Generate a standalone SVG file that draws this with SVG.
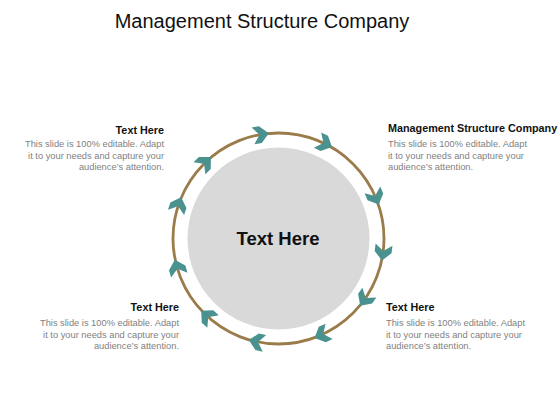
<svg xmlns="http://www.w3.org/2000/svg" width="560" height="420" viewBox="0 0 560 420">
<style>
.title{font-family:"Liberation Sans",Arial,sans-serif;font-size:20px;fill:#111}
.center{font-family:"Liberation Sans",Arial,sans-serif;font-size:18.5px;font-weight:bold;fill:#111}
.head{font-family:"Liberation Sans",Arial,sans-serif;font-size:10.8px;font-weight:bold;fill:#111}
.desc{font-family:"Liberation Sans",Arial,sans-serif;font-size:9.3px;fill:#7f7f7f}
.ring{fill:none;stroke:#9a7b4a;stroke-width:2.8}
.chev{fill:#4a928f}
</style>
<defs>
<polygon id="chev" class="chev" points="-7.5,-8.5 0,-8.5 8.5,0 0,8.5 -7.5,8.5 -1,0"/>
</defs>
<rect width="560" height="420" fill="#ffffff"/>
<text class="title" x="262" y="28" text-anchor="middle">Management Structure Company</text>
<g id="center-node">
<circle cx="278.5" cy="238.5" r="91" fill="#d9d9d9"/>
<text class="center" x="278" y="245" text-anchor="middle">Text Here</text>
</g>
<g id="connectors">
<circle class="ring" cx="278.5" cy="238.5" r="105.5"/>
<use href="#chev" transform="translate(260.4,134.6) rotate(-9.9)"/>
<use href="#chev" transform="translate(324.3,143.4) rotate(25.7)"/>
<use href="#chev" transform="translate(375.4,196.8) rotate(66.7)"/>
<use href="#chev" transform="translate(383.1,252.1) rotate(97.4)"/>
<use href="#chev" transform="translate(365.1,298.7) rotate(124.8)"/>
<use href="#chev" transform="translate(322.3,334.5) rotate(155.5)"/>
<use href="#chev" transform="translate(257.1,341.8) rotate(191.7)"/>
<use href="#chev" transform="translate(207.5,316.5) rotate(222.3)"/>
<use href="#chev" transform="translate(177.2,267.9) rotate(253.8)"/>
<use href="#chev" transform="translate(178.4,205.2) rotate(288.4)"/>
<use href="#chev" transform="translate(204.8,163.0) rotate(315.7)"/>
</g>
<g id="top-left">
<text class="head" x="164" y="134" text-anchor="end">Text Here</text>
<text class="desc" x="164" y="147" text-anchor="end">This slide is 100% editable. Adapt</text>
<text class="desc" x="164" y="158.5" text-anchor="end">it to your  needs and capture your</text>
<text class="desc" x="164" y="170" text-anchor="end">audience’s attention.</text>
</g>
<g id="top-right">
<text class="head" x="388" y="132">Management Structure Company</text>
<text class="desc" x="388" y="147">This slide is 100% editable. Adapt</text>
<text class="desc" x="388" y="158.5">it to your  needs and capture your</text>
<text class="desc" x="388" y="170">audience’s attention.</text>
</g>
<g id="bottom-left">
<text class="head" x="179" y="311" text-anchor="end">Text Here</text>
<text class="desc" x="179" y="326" text-anchor="end">This slide is 100% editable. Adapt</text>
<text class="desc" x="179" y="337.5" text-anchor="end">it to your  needs and capture your</text>
<text class="desc" x="179" y="349" text-anchor="end">audience’s attention.</text>
</g>
<g id="bottom-right">
<text class="head" x="386" y="311">Text Here</text>
<text class="desc" x="386" y="326">This slide is 100% editable. Adapt</text>
<text class="desc" x="386" y="337.5">it to your  needs and capture your</text>
<text class="desc" x="386" y="349">audience’s attention.</text>
</g>
</svg>
